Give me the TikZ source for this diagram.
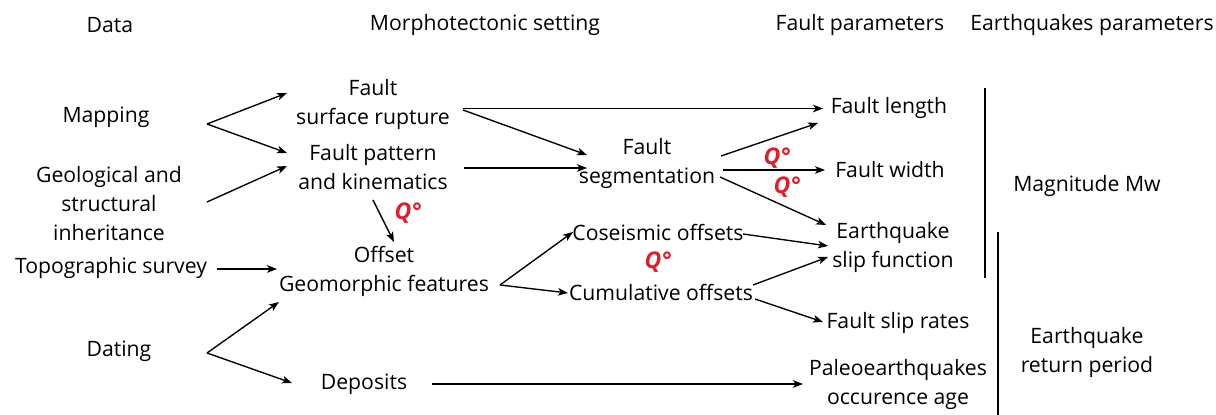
\documentclass[tikz,border=0pt]{standalone}
\usepackage{fontspec}
\setmainfont{Open Sans}
\usetikzlibrary{calc,arrows.meta}
\definecolor{qred}{RGB}{222,30,42}
\begin{document}
\begin{tikzpicture}[x=0.5pt,y=-0.5pt,
  every node/.style={font=\fontsize{10.6}{14.5}\selectfont, align=center, inner sep=0pt},
  arr/.style={line width=0.68pt, -{Stealth[length=5pt,width=3.8pt,inset=1.3pt]}},
  qlab/.style={text=qred, font=\fontsize{11.5}{13}\selectfont\bfseries\itshape},
  bar/.style={line width=0.7pt}]
\useasboundingbox (0,0) rectangle (1216,415);
% headers
\node (hdata) at (110,25) {Data};
\node (hmorph) at (485,25) {Morphotectonic setting};
\node (hfault) at (860,25) {Fault parameters};
\node (heq) at (1092,25) {Earthquakes parameters};
% data column
\node (map) at (106,117) {Mapping};
\node (geo) at (109,204) {Geological and\\structural\\inheritance};
\node (topo) at (111,268) {Topographic survey};
\node (dat) at (119,351) {Dating};
% morphotectonic
\node (sr) at (373,104.5) {Fault\\surface rupture};
\node (fp) at (373,167) {Fault pattern\\and kinematics};
\node (off) at (384,271.5) {Offset\\Geomorphic features};
\node (dep) at (364,384) {Deposits};
\node (seg) at (647,164) {Fault\\segmentation};
\node (cos) at (658,233) {Coseismic offsets};
\node (cum) at (661,292) {Cumulative offsets};
% fault parameters
\node (len) at (889,108) {Fault length};
\node (wid) at (890,170) {Fault width};
\node (slip) at (893,247.5) {Earthquake\\slip function};
\node (rates) at (898,323) {Fault slip rates};
\node (paleo) at (898,384) {Paleoearthquakes\\occurence age};
% earthquake parameters
\node (mag) at (1087,186) {Magnitude Mw};
\node (ret) at (1087,352) {Earthquake\\return period};
% Q labels
\node[qlab] (q1) at (408,213) {Q°};
\node[qlab] (q2) at (777,158) {Q°};
\node[qlab] (q3) at (787,187) {Q°};
\node[qlab] (q4) at (658,262) {Q°};
% bars
\draw[bar] ($(mag)+(-102,-98)$) -- ($(mag)+(-102,92)$);
\draw[bar] ($(ret)+(-89,-120)$) -- ($(ret)+(-89,63)$);
% arrows
\draw[arr] ($(map)+(101,7)$) -- ($(sr)+(-86,-11.5)$);
\draw[arr] ($(map)+(101,7)$) -- ($(fp)+(-86,-14)$);
\draw[arr] ($(geo)+(98,-2)$) -- ($(fp)+(-86,-1)$);
\draw[arr] ($(fp)+(0,33)$) -- ($(off)+(10,-29.5)$);
\draw[arr] ($(topo)+(106,1)$) -- ($(off)+(-107,-2.5)$);
\draw[arr] ($(dat)+(88,2)$) -- ($(off)+(-105,30.5)$);
\draw[arr] ($(dat)+(88,2)$) -- ($(dep)+(-72,-1)$);
\draw[arr] ($(sr)+(90,4)$) -- ($(len)+(-66,0.5)$);
\draw[arr] ($(sr)+(90,5.5)$) -- ($(seg)+(-60,-9)$);
\draw[arr] ($(fp)+(91,1)$) -- ($(seg)+(-60,4)$);
\draw[arr] ($(seg)+(74,-8)$) -- ($(len)+(-71,15)$);
\draw[arr] ($(seg)+(76,6)$) -- ($(wid)+(-65,0)$);
\draw[arr] ($(seg)+(73,13)$) -- ($(slip)+(-67,-22.5)$);
\draw[arr] ($(off)+(116,13.5)$) -- ($(cos)+(-85,-1)$);
\draw[arr] ($(off)+(116,13.5)$) -- ($(cum)+(-93,1)$);
\draw[arr] ($(cos)+(85,1)$) -- ($(slip)+(-65,-1.5)$);
\draw[arr] ($(cum)+(92,-7)$) -- ($(slip)+(-65,9.5)$);
\draw[arr] ($(cum)+(94,7)$) -- ($(rates)+(-75,-1)$);
\draw[arr] ($(dep)+(68,0)$) -- ($(paleo)+(-95,0)$);
\end{tikzpicture}
\end{document}
